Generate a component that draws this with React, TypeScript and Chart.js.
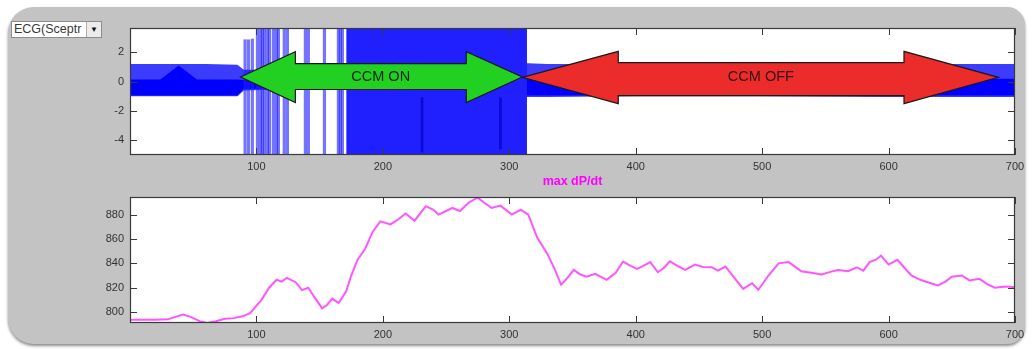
import React, { useEffect, useRef } from 'react';
import { Chart, registerables } from 'chart.js';

Chart.register(...registerables);

// ---------- axes ----------
const X_MIN = 0;
const X_MAX = 700;
const xTicks = [100, 200, 300, 400, 500, 600, 700];

const ecgYMin = -5;
const ecgYMax = 3.65;
const ecgYTicks = [-4, -2, 0, 2];

const dpYMin = 791;
const dpYMax = 894.5;
const dpYTicks = [800, 820, 840, 860, 880];

// ---------- ECG (top) ----------
// envelope of the baseline ECG band
const ecgBandX = [0, 20, 24, 38.5, 53, 60, 85, 90, 130, 170, 315, 330, 400, 500, 600, 690, 700];
const ecgBandHi = [1.2, 1.2, 1.2, 1.2, 1.2, 1.2, 1.15, 0.8, 0.8, 0.8, 1.25, 1.2, 1.2, 1.2, 1.2, 1.2, 1.2];
const ecgBandLo = [-1.0, -1.0, -1.0, -1.0, -1.0, -1.0, -1.0, -0.6, -0.5, -0.5, -1.05, -1.05, -1.0, -1.0, -1.05, -1.05, -1.05];
// solid core of the band
const ecgCoreHi = [0.15, 0.15, 0.15, 1.1, 0.15, 0.15, 0.15, 0.1, 0.1, 0.1, 0.2, 0.2, 0.2, 0.2, 0.2, 0.2, 0.2];
const ecgCoreLo = [-0.95, -0.95, -0.95, -0.95, -0.95, -0.95, -0.95, -0.5, -0.45, -0.45, -0.95, -0.95, -0.95, -0.95, -0.95, -0.95, -0.95];

// isolated CCM pacing artefacts
const spikeX = [91, 93.7, 96.8, 100.8, 103.2, 104.7, 106.3, 108.7, 110.3, 113.4, 115.8, 117.4, 122, 124.5, 138.7, 141.1, 153.8, 164.8, 166.4, 168];
const spikeHi = [2.85, 2.85, 2.9, 3.65, 3.65, 3.65, 3.65, 3.65, 3.65, 3.65, 3.65, 3.65, 3.65, 3.65, 3.65, 3.65, 3.65, 3.65, 3.65, 3.65];
const spikeLo = [-5, -5, -5, -5, -5, -5, -5, -5, -5, -5, -5, -5, -5, -5, -5, -5, -5, -5, -5, -5];

// dense pacing block
const denseX = [171, 314];
const denseHi = [3.65, 3.65];

// darker traces inside the dense block
const darkX = [231, 293];
const darkHi = [-1.1, -1.1];
const darkLo = [-4.8, -4.6];

// CCM arrows (data units)
const arrowLabels = ['CCM ON', 'CCM OFF'];
const arrowFrom = [87.4, 310.3];
const arrowTo = [310.3, 686.8];
const arrowHeadL = [130.8, 386.2];
const arrowHeadR = [266, 612.2];
const arrowTipY = [0.31, 0.29];
const arrowHeadTop = [2.04, 2.06];
const arrowHeadBottom = [-1.43, -1.5];
const arrowShaftTop = [1.22, 1.29];
const arrowShaftBottom = [-0.54, -0.95];
const arrowLabelX = [198.3, 499];
const arrowLabelY = [0.34, 0.29];
const arrowFill = ['#22d022', '#ec2b2b'];
const arrowText = ['#142214', '#361010'];

// ---------- max dP/dt (bottom) ----------
const dpX = [0, 10, 20, 30, 36, 42, 48, 55, 61, 68, 75, 82, 89, 95, 99, 104, 110, 116, 120, 124, 131, 136, 141, 146, 152, 156, 160, 165, 171, 175, 180, 186, 192, 198, 206, 212, 218, 225, 234, 240, 244, 250, 255, 261, 268, 275, 280, 286, 293, 302, 309, 315, 322, 330, 336, 341, 346, 351, 356, 361, 368, 377, 384, 390, 396, 401, 406, 411.5, 417.5, 422, 427, 433, 439, 447, 453, 460, 465, 471, 478, 485, 492, 497, 505, 513, 521, 531, 540, 547, 554, 560, 568, 575, 580, 585, 590, 594, 600, 607, 612, 618, 625, 631, 639, 645, 650, 658, 664, 672, 678, 684, 693, 700];
const dpY = [793.7, 793.7, 793.7, 794, 796, 798, 796, 792.5, 791, 792.5, 794.5, 795, 796.5, 799, 804, 810, 820, 826.5, 825, 828, 824.5, 818, 820, 812, 803, 806, 811, 807.3, 817, 830, 843, 852, 866, 874.5, 872, 876, 881, 875, 887, 884, 880, 883, 885.5, 883, 890, 894, 890, 885.5, 887.4, 880, 884, 880, 861.4, 848, 835, 822.4, 828, 834.6, 831, 829, 831.4, 826.5, 832, 841.5, 838, 835.5, 838, 841, 832.7, 836, 841.7, 838, 834.6, 839, 837, 836.8, 834, 837.4, 828, 819, 823.7, 818.3, 830, 840, 841, 833.5, 832, 830.8, 833, 834.6, 833.5, 836.8, 834, 841, 843, 846.4, 839, 842.9, 837, 830, 826.5, 824.5, 821.8, 825, 829, 830, 826, 827.3, 823, 820, 821, 820.4];
const dpTitle = 'max dP/dt';

const FONT = '"Liberation Sans", Arial, Helvetica, sans-serif';
const TICK_COLOR = '#333333';

const matlabFrame = {
  id: 'matlabFrame',
  beforeDraw(chart: any) {
    const { ctx, chartArea: a } = chart;
    ctx.save();
    ctx.fillStyle = '#ffffff';
    ctx.fillRect(a.left, a.top, a.right - a.left, a.bottom - a.top);
    ctx.restore();
  },
  afterDraw(chart: any) {
    const { ctx, chartArea: a, scales } = chart;
    const L = 7;
    ctx.save();
    ctx.strokeStyle = '#3a3a3a';
    ctx.lineWidth = 1;
    ctx.beginPath();
    scales.x.ticks.forEach((t: any) => {
      const px = Math.round(scales.x.getPixelForValue(t.value)) + 0.5;
      ctx.moveTo(px, a.bottom);
      ctx.lineTo(px, a.bottom - L);
      ctx.moveTo(px, a.top);
      ctx.lineTo(px, a.top + L);
    });
    scales.y.ticks.forEach((t: any) => {
      const py = Math.round(scales.y.getPixelForValue(t.value)) + 0.5;
      ctx.moveTo(a.left, py);
      ctx.lineTo(a.left + L, py);
      ctx.moveTo(a.right, py);
      ctx.lineTo(a.right - L, py);
    });
    ctx.stroke();
    ctx.lineWidth = 1.2;
    ctx.strokeRect(Math.round(a.left) + 0.5, Math.round(a.top) + 0.5, Math.round(a.right - a.left) - 1, Math.round(a.bottom - a.top) - 1);
    ctx.restore();
  },
};

const arrowPlugin = {
  id: 'ccmArrows',
  afterDatasetsDraw(chart: any) {
    const { ctx, scales } = chart;
    const X = (v: number) => scales.x.getPixelForValue(v);
    const Y = (v: number) => scales.y.getPixelForValue(v);
    arrowLabels.forEach((label, i) => {
      ctx.save();
      ctx.beginPath();
      ctx.moveTo(X(arrowFrom[i]), Y(arrowTipY[i]));
      ctx.lineTo(X(arrowHeadL[i]), Y(arrowHeadTop[i]));
      ctx.lineTo(X(arrowHeadL[i]), Y(arrowShaftTop[i]));
      ctx.lineTo(X(arrowHeadR[i]), Y(arrowShaftTop[i]));
      ctx.lineTo(X(arrowHeadR[i]), Y(arrowHeadTop[i]));
      ctx.lineTo(X(arrowTo[i]), Y(arrowTipY[i]));
      ctx.lineTo(X(arrowHeadR[i]), Y(arrowHeadBottom[i]));
      ctx.lineTo(X(arrowHeadR[i]), Y(arrowShaftBottom[i]));
      ctx.lineTo(X(arrowHeadL[i]), Y(arrowShaftBottom[i]));
      ctx.lineTo(X(arrowHeadL[i]), Y(arrowHeadBottom[i]));
      ctx.closePath();
      ctx.fillStyle = arrowFill[i];
      ctx.fill();
      ctx.strokeStyle = '#1a1a1a';
      ctx.lineWidth = 1.2;
      ctx.lineJoin = 'miter';
      ctx.stroke();
      ctx.fillStyle = arrowText[i];
      ctx.font = '14.5px ' + FONT;
      ctx.textAlign = 'center';
      ctx.textBaseline = 'middle';
      ctx.fillText(label, X(arrowLabelX[i]), Y(arrowLabelY[i]));
      ctx.restore();
    });
  },
};

const titlePlugin = {
  id: 'dpTitle',
  afterDraw(chart: any) {
    const { ctx, chartArea: a } = chart;
    ctx.save();
    ctx.fillStyle = '#ff00ff';
    ctx.font = 'bold 12.5px ' + FONT;
    ctx.textAlign = 'center';
    ctx.textBaseline = 'middle';
    ctx.fillText(dpTitle, (a.left + a.right) / 2, a.top - 15);
    ctx.restore();
  },
};

function xScale(height: number) {
  return {
    type: 'linear',
    min: X_MIN,
    max: X_MAX,
    offset: false,
    grid: { display: false, drawTicks: false, tickLength: 0 },
    border: { display: false },
    ticks: { color: TICK_COLOR, font: { family: FONT, size: 11 }, padding: 5, maxRotation: 0, autoSkip: false },
    afterBuildTicks: (s: any) => { s.ticks = xTicks.map((v) => ({ value: v })); },
    afterFit: (s: any) => { s.height = height; },
  };
}

function yScale(min: number, max: number, ticks: number[]) {
  return {
    type: 'linear',
    min,
    max,
    grid: { display: false, drawTicks: false, tickLength: 0 },
    border: { display: false },
    ticks: { color: TICK_COLOR, font: { family: FONT, size: 11 }, padding: 6 },
    afterBuildTicks: (s: any) => { s.ticks = ticks.map((v) => ({ value: v })); },
    afterFit: (s: any) => { s.width = 130; },
  };
}

const baseOptions = {
  responsive: false,
  animation: false as const,
  events: [] as any[],
  plugins: { legend: { display: false }, tooltip: { enabled: false } },
};

export default function App() {
  const topRef = useRef<HTMLCanvasElement>(null);
  const botRef = useRef<HTMLCanvasElement>(null);

  useEffect(() => {
    const pts = (xs: number[], ys: number[]) => xs.map((x, i) => ({ x, y: ys[i] }));
    const top = new Chart(topRef.current as HTMLCanvasElement, {
      type: 'line',
      data: {
        datasets: [
          { type: 'bar', data: darkX.map((x, i) => ({ x, y: [darkLo[i], darkHi[i]] })) as any, backgroundColor: '#0a0ad6', barThickness: 2, grouped: false, order: 1 } as any,
          { type: 'line', data: pts(denseX, denseHi), fill: 'start', backgroundColor: '#2020ff', borderWidth: 0, pointRadius: 0, order: 2 } as any,
          { type: 'bar', data: spikeX.map((x, i) => ({ x, y: [spikeLo[i], spikeHi[i]] })) as any, backgroundColor: 'rgba(30,30,255,0.62)', barThickness: 2.5, grouped: false, order: 3 } as any,
          { type: 'line', data: pts(ecgBandX, ecgCoreHi), fill: '+1', backgroundColor: '#0000ff', borderWidth: 0, pointRadius: 0, order: 4 } as any,
          { type: 'line', data: pts(ecgBandX, ecgCoreLo), fill: false, borderWidth: 0, pointRadius: 0, order: 4 } as any,
          { type: 'line', data: pts(ecgBandX, ecgBandHi), fill: '+1', backgroundColor: '#3c3cff', borderWidth: 0, pointRadius: 0, order: 5 } as any,
          { type: 'line', data: pts(ecgBandX, ecgBandLo), fill: false, borderWidth: 0, pointRadius: 0, order: 5 } as any,
        ],
      },
      options: {
        ...baseOptions,
        layout: { padding: { left: 0, top: 28, right: 18, bottom: 0 } },
        scales: { x: xScale(21), y: yScale(ecgYMin, ecgYMax, ecgYTicks) } as any,
      } as any,
      plugins: [matlabFrame, arrowPlugin],
    });

    const bot = new Chart(botRef.current as HTMLCanvasElement, {
      type: 'line',
      data: {
        datasets: [
          { data: pts(dpX, dpY), borderColor: '#ff55ff', borderWidth: 2, pointRadius: 0, fill: false, tension: 0 } as any,
        ],
      },
      options: {
        ...baseOptions,
        layout: { padding: { left: 0, top: 21, right: 18, bottom: 0 } },
        scales: { x: xScale(26), y: yScale(dpYMin, dpYMax, dpYTicks) } as any,
      } as any,
      plugins: [matlabFrame, titlePlugin],
    });

    return () => {
      top.destroy();
      bot.destroy();
    };
  }, []);

  return (
    <div style={{ position: 'absolute', left: 0, top: 0, width: 1033, height: 349, background: '#ffffff', overflow: 'hidden' }}>
      <div
        style={{
          position: 'absolute', left: 8, top: 7, width: 1017, height: 337,
          background: '#c3c3c3', borderRadius: '26px 18px 18px 26px',
          boxShadow: '0 2px 3px rgba(0,0,0,0.45)',
        }}
      />
      <canvas ref={topRef} width={1033} height={176} style={{ position: 'absolute', left: 0, top: 0 }} />
      <canvas ref={botRef} width={1033} height={173} style={{ position: 'absolute', left: 0, top: 176 }} />
      <div
        style={{
          position: 'absolute', left: 11, top: 21, width: 91, height: 17, boxSizing: 'border-box',
          background: '#ffffff', border: '1px solid #8c8c8c', fontFamily: FONT, fontSize: 12.5,
          color: '#3a3a3a', lineHeight: '15px', paddingLeft: 2, whiteSpace: 'nowrap', overflow: 'hidden',
        }}
      >
        ECG(Sceptr
        <div
          style={{
            position: 'absolute', right: 0, top: 0, width: 14, height: 15, background: '#ececec',
            borderLeft: '1px solid #b0b0b0', fontSize: 8, lineHeight: '15px', textAlign: 'center', color: '#111',
          }}
        >
          ▼
        </div>
      </div>
    </div>
  );
}
